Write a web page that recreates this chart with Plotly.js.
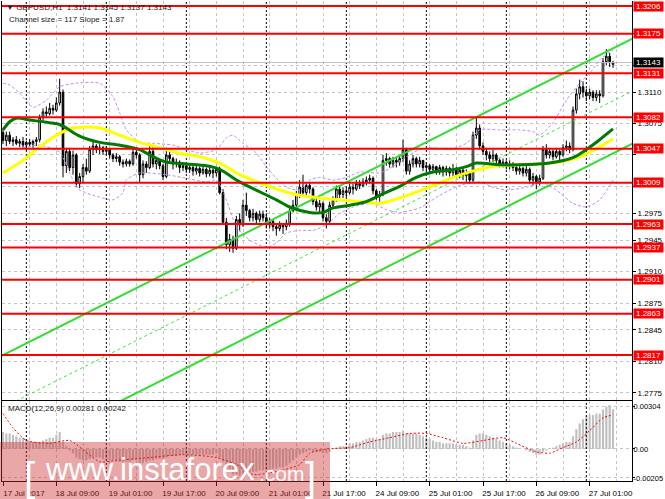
<!DOCTYPE html>
<html><head><meta charset="utf-8">
<script src="https://cdn.plot.ly/plotly-3.0.1.min.js"></script>
<style>html,body{margin:0;padding:0;background:#fff;}#chart{width:665px;height:499px;}</style>
</head><body><div id="chart"></div>
<script>
// ---------- DATA ----------
const symbol = 'GBPUSD,H1';
const channelText = 'Channel size = 117 Slope = 1.87';
const macdName = 'MACD(12,26,9)';
const timeLabels = ['17 Jul 2017','18 Jul 09:00','19 Jul 01:00','19 Jul 17:00','20 Jul 09:00','21 Jul 01:00','21 Jul 17:00','24 Jul 09:00','25 Jul 01:00','25 Jul 17:00','26 Jul 09:00','27 Jul 01:00'];
const timeLabelIdx = [0,16,32,48,64,80,96,112,128,144,160,176];
const daySepIdx = [7,31,55,79,103,127,151,175];

const openP = [1.3065,1.3056,1.3062,1.3055,1.3057,1.3053,1.3055,1.3051,1.3054,1.3052,
1.3055,1.3057,1.3082,1.3088,1.3086,1.3092,1.3090,1.3098,1.3110,1.3028,
1.3044,1.3026,1.3040,1.3008,1.3016,1.3026,1.3022,1.3046,1.3050,1.3046,
1.3048,1.3044,1.3046,1.3040,1.3036,1.3038,1.3032,1.3030,1.3033,1.3030,
1.3043,1.3040,1.3018,1.3030,1.3026,1.3044,1.3030,1.3034,1.3028,1.3016,
1.3040,1.3036,1.3030,1.3032,1.3026,1.3028,1.3024,1.3026,1.3022,1.3025,
1.3020,1.3024,1.3019,1.3023,1.3020,1.3024,1.2998,1.2965,1.2940,1.2946,
1.2936,1.2968,1.2962,1.2984,1.2978,1.2970,1.2975,1.2968,1.2974,1.2970,
1.2962,1.2966,1.2960,1.2958,1.2962,1.2960,1.2964,1.2978,1.2984,1.2996,
1.3004,1.2998,1.3006,1.3002,1.2988,1.2982,1.2986,1.2970,1.2966,1.2984,
1.2990,1.3002,1.2996,1.3000,1.2998,1.3004,1.3002,1.3008,1.3006,1.3010,
1.3012,1.3014,1.3000,1.2994,1.2996,1.3034,1.3036,1.3030,1.3034,1.3032,
1.3036,1.3046,1.3022,1.3030,1.3036,1.3030,1.3034,1.3026,1.3028,1.3024,
1.3027,1.3022,1.3026,1.3021,1.3025,1.3020,1.3024,1.3018,1.3023,1.3017,
1.3020,1.3012,1.3062,1.3070,1.3050,1.3044,1.3040,1.3036,1.3040,1.3034,
1.3030,1.3032,1.3028,1.3030,1.3026,1.3022,1.3025,1.3020,1.3024,1.3012,
1.3016,1.3010,1.3014,1.3046,1.3040,1.3044,1.3038,1.3044,1.3040,1.3048,
1.3050,1.3046,1.3090,1.3108,1.3116,1.3110,1.3106,1.3110,1.3104,1.3108,
1.3106,1.3144,1.3150,1.3141];
const highP = [1.3070,1.3066,1.3066,1.3060,1.3061,1.3058,1.3060,1.3056,1.3058,1.3057,
1.3060,1.3085,1.3092,1.3094,1.3098,1.3096,1.3104,1.3125,1.3113,1.3048,
1.3048,1.3045,1.3042,1.3020,1.3030,1.3036,1.3050,1.3055,1.3052,1.3052,
1.3050,1.3050,1.3047,1.3042,1.3042,1.3040,1.3035,1.3036,1.3035,1.3047,
1.3046,1.3042,1.3034,1.3033,1.3052,1.3050,1.3038,1.3036,1.3030,1.3048,
1.3045,1.3038,1.3036,1.3034,1.3032,1.3030,1.3030,1.3028,1.3028,1.3027,
1.3028,1.3026,1.3027,1.3025,1.3027,1.3027,1.3002,1.2970,1.2952,1.2950,
1.2972,1.2975,1.2990,1.2998,1.2980,1.2980,1.2977,1.2978,1.2978,1.2975,
1.2970,1.2968,1.2964,1.2966,1.2964,1.2968,1.2982,1.2990,1.3000,1.3012,
1.3018,1.3010,1.3010,1.3004,1.2992,1.2990,1.2988,1.2974,1.2988,1.2994,
1.3006,1.3006,1.3004,1.3004,1.3008,1.3008,1.3012,1.3012,1.3014,1.3016,
1.3018,1.3016,1.3002,1.3000,1.3040,1.3042,1.3038,1.3038,1.3038,1.3040,
1.3057,1.3048,1.3034,1.3040,1.3038,1.3038,1.3034,1.3032,1.3030,1.3030,
1.3028,1.3029,1.3028,1.3028,1.3027,1.3030,1.3027,1.3026,1.3025,1.3024,
1.3022,1.3066,1.3082,1.3074,1.3054,1.3048,1.3044,1.3046,1.3042,1.3036,
1.3036,1.3034,1.3034,1.3032,1.3030,1.3028,1.3027,1.3028,1.3026,1.3020,
1.3018,1.3018,1.3050,1.3052,1.3048,1.3046,1.3048,1.3046,1.3052,1.3056,
1.3054,1.3094,1.3114,1.3124,1.3122,1.3114,1.3114,1.3112,1.3112,1.3112,
1.3148,1.3158,1.3154,1.3145];
const lowP = [1.3052,1.3050,1.3052,1.3050,1.3051,1.3049,1.3048,1.3045,1.3049,1.3048,
1.3050,1.3054,1.3078,1.3082,1.3084,1.3085,1.3088,1.3095,1.3015,1.3020,
1.3022,1.3018,1.3004,1.3003,1.3010,1.3018,1.3020,1.3040,1.3042,1.3041,
1.3040,1.3040,1.3036,1.3032,1.3032,1.3028,1.3026,1.3027,1.3027,1.3028,
1.3036,1.3010,1.3014,1.3020,1.3024,1.3026,1.3024,1.3024,1.3012,1.3014,
1.3030,1.3024,1.3026,1.3020,1.3022,1.3020,1.3020,1.3017,1.3018,1.3016,
1.3018,1.3015,1.3016,1.3014,1.3016,1.2996,1.2962,1.2935,1.2932,1.2931,
1.2934,1.2955,1.2960,1.2972,1.2966,1.2966,1.2964,1.2965,1.2966,1.2958,
1.2958,1.2955,1.2950,1.2955,1.2952,1.2956,1.2960,1.2976,1.2982,1.2992,
1.2994,1.2995,1.2997,1.2984,1.2978,1.2976,1.2966,1.2958,1.2962,1.2980,
1.2988,1.2992,1.2992,1.2992,1.2996,1.2996,1.3000,1.3002,1.3004,1.3006,
1.3008,1.2996,1.2990,1.2988,1.2994,1.3028,1.3026,1.3026,1.3026,1.3028,
1.3032,1.3018,1.3018,1.3026,1.3026,1.3026,1.3022,1.3022,1.3020,1.3020,
1.3018,1.3018,1.3016,1.3017,1.3016,1.3016,1.3014,1.3014,1.3012,1.3010,
1.3008,1.3010,1.3058,1.3046,1.3040,1.3034,1.3032,1.3032,1.3030,1.3026,
1.3026,1.3024,1.3024,1.3022,1.3018,1.3018,1.3016,1.3016,1.3008,1.3006,
1.3002,1.3006,1.3012,1.3036,1.3036,1.3034,1.3036,1.3034,1.3038,1.3044,
1.3042,1.3044,1.3086,1.3102,1.3104,1.3100,1.3102,1.3100,1.3100,1.3098,
1.3104,1.3140,1.3138,1.3137];
const closeP = [1.3056,1.3062,1.3055,1.3057,1.3053,1.3055,1.3051,1.3054,1.3052,1.3055,
1.3057,1.3082,1.3088,1.3086,1.3092,1.3090,1.3098,1.3110,1.3028,1.3044,
1.3026,1.3040,1.3008,1.3016,1.3026,1.3022,1.3046,1.3050,1.3046,1.3048,
1.3044,1.3046,1.3040,1.3036,1.3038,1.3032,1.3030,1.3033,1.3030,1.3043,
1.3040,1.3018,1.3030,1.3026,1.3044,1.3030,1.3034,1.3028,1.3016,1.3040,
1.3036,1.3030,1.3032,1.3026,1.3028,1.3024,1.3026,1.3022,1.3025,1.3020,
1.3024,1.3019,1.3023,1.3020,1.3024,1.2998,1.2965,1.2940,1.2946,1.2936,
1.2968,1.2962,1.2984,1.2978,1.2970,1.2975,1.2968,1.2974,1.2970,1.2962,
1.2966,1.2960,1.2958,1.2962,1.2960,1.2964,1.2978,1.2984,1.2996,1.3004,
1.2998,1.3006,1.3002,1.2988,1.2982,1.2986,1.2970,1.2966,1.2984,1.2990,
1.3002,1.2996,1.3000,1.2998,1.3004,1.3002,1.3008,1.3006,1.3010,1.3012,
1.3014,1.3000,1.2994,1.2996,1.3034,1.3036,1.3030,1.3034,1.3032,1.3036,
1.3046,1.3022,1.3030,1.3036,1.3030,1.3034,1.3026,1.3028,1.3024,1.3027,
1.3022,1.3026,1.3021,1.3025,1.3020,1.3024,1.3018,1.3023,1.3017,1.3020,
1.3012,1.3062,1.3070,1.3050,1.3044,1.3040,1.3036,1.3040,1.3034,1.3030,
1.3032,1.3028,1.3030,1.3026,1.3022,1.3025,1.3020,1.3024,1.3012,1.3016,
1.3010,1.3014,1.3046,1.3040,1.3044,1.3038,1.3044,1.3040,1.3048,1.3050,
1.3046,1.3090,1.3108,1.3116,1.3110,1.3106,1.3110,1.3104,1.3108,1.3106,
1.3144,1.3150,1.3144,1.3143];

// moving averages / bands read at sample bars
const greenMaIdx = [0,2,4,8,14,17,19,23,29,35,41,45,49,55,61,65,71,77,82,86,92,96,99,104,109,113,119,124,129,134,139,142,149,155,164,171,175,179,183];
const greenMaVal = [1.3068,1.3077,1.3081,1.3079,1.3076,1.3074,1.3070,1.3061,1.3054,1.3051,1.3046,1.3038,1.3032,1.3030,1.3028,1.3024,1.3010,1.2999,1.2990,1.2982,1.2976,1.2976,1.2981,1.2984,1.2988,1.2995,1.3005,1.3015,1.3021,1.3023,1.3027,1.3031,1.3029,1.3029,1.3031,1.3037,1.3046,1.3057,1.3069];
const yellowMaIdx = [0,6,11,17,21,24,29,35,41,47,53,59,65,71,77,83,89,95,101,107,113,119,125,131,139,147,155,167,173,179,183];
const yellowMaVal = [1.3020,1.3034,1.3049,1.3064,1.3070,1.3071,1.3070,1.3062,1.3054,1.3048,1.3042,1.3038,1.3031,1.3018,1.3009,1.3001,1.2995,1.2992,1.2990,1.2988,1.2986,1.2992,1.3000,1.3009,1.3020,1.3027,1.3029,1.3032,1.3038,1.3049,1.3058];
const bandUpIdx = [0,2,5,9,13,17,22,29,33,35,37,41,45,51,55,59,64,67,69,72,76,79,82,85,89,92,95,99,103,107,113,117,121,125,129,134,139,143,149,155,159,161,165,169,173,176,179,183];
const bandUpVal = [1.3120,1.3118,1.3109,1.3093,1.3101,1.3116,1.3120,1.3120,1.3105,1.3087,1.3068,1.3054,1.3053,1.3051,1.3046,1.3042,1.3046,1.3059,1.3062,1.3053,1.3042,1.3027,1.3014,1.3004,1.3001,1.3012,1.3015,1.3012,1.3015,1.3021,1.3020,1.3027,1.3038,1.3046,1.3048,1.3046,1.3053,1.3068,1.3068,1.3068,1.3066,1.3062,1.3076,1.3101,1.3120,1.3131,1.3146,1.3157];
const bandLoIdx = [0,6,11,17,21,23,29,33,36,37,41,49,55,61,64,67,70,74,79,82,85,89,93,97,101,105,111,115,119,125,131,137,143,147,151,157,162,166,171,175,179,183];
const bandLoVal = [1.3046,1.3048,1.3051,1.3043,1.3012,1.3001,1.2993,1.2990,1.2998,1.3012,1.3020,1.3018,1.3014,1.3010,1.3012,1.2990,1.2960,1.2945,1.2937,1.2942,1.2953,1.2956,1.2956,1.2962,1.2975,1.2982,1.2986,1.2979,1.2976,1.2981,1.2995,1.3006,1.3010,1.3004,1.3001,1.3004,1.3009,1.3001,1.2986,1.2982,1.2990,1.3012];

// regression channel
const channelIdx = [-1,189];
const channelUpper = [1.2815,1.3170];
const channelSize = 0.0117;

// horizontal levels
const levels = [1.3206,1.3175,1.3131,1.3082,1.3047,1.3009,1.2963,1.2937,1.2901,1.2863,1.2817];
const priceTicks = [1.2775,1.2810,1.2845,1.2875,1.2910,1.2945,1.2975,1.3005,1.3040,1.3075,1.3110,1.3140,1.3175];
const priceTickText = ['1.2775','1.2810','1.2845','1.2875','1.2910','1.2945','1.2975','','','1.3075','1.3110','',''];

// MACD
const macdHist = [0.0012,0.0011,0.0011,0.0010,0.0009,0.0008,0.0008,0.0007,0.0006,0.0005,
0.0005,0.0005,0.0006,0.0007,0.0008,0.0008,0.0010,0.0012,0.0005,0.0002,
-0.0001,-0.0003,-0.0006,-0.0007,-0.0008,-0.0008,-0.0007,-0.0006,-0.0006,-0.0006,
-0.0007,-0.0007,-0.0008,-0.0008,-0.0009,-0.0009,-0.0009,-0.0009,-0.0009,-0.0008,
-0.0008,-0.0010,-0.0010,-0.0009,-0.0008,-0.0008,-0.0007,-0.0007,-0.0007,-0.0006,
-0.0005,-0.0005,-0.0005,-0.0004,-0.0004,-0.0004,-0.0004,-0.0004,-0.0004,-0.0004,
-0.0004,-0.0004,-0.0004,-0.0004,-0.0003,-0.0006,-0.0009,-0.0013,-0.0015,-0.0018,
-0.0018,-0.0019,-0.0018,-0.0017,-0.0017,-0.0016,-0.0016,-0.0015,-0.0015,-0.0015,
-0.0014,-0.0014,-0.0014,-0.0013,-0.0013,-0.0012,-0.0010,-0.0008,-0.0006,-0.0004,
-0.0003,-0.0002,-0.0001,-0.0002,-0.0002,-0.0002,-0.0003,-0.0003,-0.0002,0.0000,
0.0001,0.0002,0.0002,0.0002,0.0004,0.0004,0.0005,0.0005,0.0006,0.0007,
0.0008,0.0008,0.0007,0.0007,0.0010,0.0011,0.0011,0.0012,0.0012,0.0012,
0.0013,0.0011,0.0011,0.0011,0.0011,0.0010,0.0009,0.0008,0.0007,0.0006,
0.0005,0.0005,0.0004,0.0004,0.0004,0.0004,0.0003,0.0003,0.0003,0.0002,
0.0001,0.0006,0.0010,0.0011,0.0011,0.0010,0.0009,0.0008,0.0007,0.0006,
0.0005,0.0004,0.0003,0.0002,0.0001,0.0000,0.0000,-0.0001,-0.0002,-0.0003,
-0.0004,-0.0004,-0.0002,-0.0001,0.0000,0.0001,0.0002,0.0003,0.0004,0.0005,
0.0005,0.0009,0.0014,0.0018,0.0021,0.0023,0.0024,0.0024,0.0025,0.0025,
0.0028,0.0030,0.0031,0.00281];
const signalIdx = [0,3,7,14,20,29,34,44,54,64,70,75,82,89,92,97,104,110,116,122,127,132,138,144,150,154,160,164,168,172,176,180,183];
const signalVal = [0.0025,0.0015,0.0006,0.0004,0.0006,-0.0009,-0.0008,-0.0006,-0.0004,-0.0006,-0.0011,-0.0018,-0.0016,-0.0011,-0.0003,0.0000,0.0001,0.0005,0.0008,0.0011,0.0011,0.0008,0.0004,0.0006,0.0008,0.0004,-0.0002,-0.0003,0.0001,0.0005,0.0013,0.0022,0.00242];
const macdTicks = [0.00304,0,-0.00205];
const macdTickText = ['0.00304','0.00','-0.00205'];

// ---------- DRAW ----------
const F = 'Liberation Sans, Arial, sans-serif';
const barIdx = closeP.map((_, i) => i);
const yMain = [1.27669, 1.32116];
const yMacd = [-0.002263, 0.003395];
const xRange = [-0.3, 188.7];
const last = closeP.length - 1;

function sepLine(range) {
  const xs = [], ys = [];
  daySepIdx.forEach(d => { xs.push(d, d, null); ys.push(range[0], range[1], null); });
  return {xs, ys};
}
const s1 = sepLine(yMain), s2 = sepLine(yMacd);
const upper = channelUpper;
const middle = channelUpper.map(v => v - channelSize / 2);
const lower = channelUpper.map(v => v - channelSize);

const traces = [
  {type:'scatter', mode:'lines', x:s1.xs, y:s1.ys, xaxis:'x', yaxis:'y', line:{color:'#000', width:1, dash:'2px,2px'}, hoverinfo:'skip'},
  {type:'scatter', mode:'lines', x:s2.xs, y:s2.ys, xaxis:'x2', yaxis:'y2', line:{color:'#000', width:1, dash:'2px,2px'}, hoverinfo:'skip'},
  {type:'scatter', mode:'lines', x:xRange, y:[closeP[last], closeP[last]], xaxis:'x', yaxis:'y', line:{color:'#c0c0c0', width:1}, hoverinfo:'skip'},
  {type:'scatter', mode:'lines', x:bandUpIdx, y:bandUpVal, xaxis:'x', yaxis:'y', line:{color:'#c58cf0', width:1, dash:'3px,2px', shape:'spline', smoothing:0.6}},
  {type:'scatter', mode:'lines', x:bandLoIdx, y:bandLoVal, xaxis:'x', yaxis:'y', line:{color:'#c58cf0', width:1, dash:'3px,2px', shape:'spline', smoothing:0.6}},
  {type:'candlestick', x:barIdx, open:openP, high:highP, low:lowP, close:closeP, xaxis:'x', yaxis:'y', whiskerwidth:0,
    increasing:{line:{color:'#000', width:1}, fillcolor:'#ffffff'},
    decreasing:{line:{color:'#000', width:1}, fillcolor:'#000000'}, hoverinfo:'skip'},
  {type:'scatter', mode:'lines', x:channelIdx, y:middle, xaxis:'x', yaxis:'y', line:{color:'#33ee33', width:1, dash:'3px,3px'}},
  {type:'scatter', mode:'lines', x:channelIdx, y:upper, xaxis:'x', yaxis:'y', line:{color:'#33dd33', width:2}},
  {type:'scatter', mode:'lines', x:channelIdx, y:lower, xaxis:'x', yaxis:'y', line:{color:'#33dd33', width:2}},
  {type:'scatter', mode:'lines', x:yellowMaIdx, y:yellowMaVal, xaxis:'x', yaxis:'y', line:{color:'#ffff00', width:3, shape:'spline', smoothing:0.8}},
  {type:'scatter', mode:'lines', x:greenMaIdx, y:greenMaVal, xaxis:'x', yaxis:'y', line:{color:'#007a00', width:3, shape:'spline', smoothing:0.8}},
  {type:'bar', x:barIdx, y:macdHist, xaxis:'x2', yaxis:'y2', marker:{color:'#c0c0c0', line:{width:0}}, hoverinfo:'skip'},
  {type:'scatter', mode:'lines', x:signalIdx, y:signalVal, xaxis:'x2', yaxis:'y2', line:{color:'#ff0000', width:1, dash:'2px,2px', shape:'spline', smoothing:0.6}}
];

const grid = {showgrid:true, gridcolor:'#c4c4c4', griddash:'3px,3px', gridwidth:1};
const minorGrid = {tick0:0, dtick:8, showgrid:true, gridcolor:'#c4c4c4', griddash:'3px,3px', ticks:''};

const shapes = levels.map(v => ({type:'line', xref:'paper', x0:0, x1:1, yref:'y', y0:v, y1:v, line:{color:'#ff0000', width:2}, layer:'above'}));
shapes.push({type:'rect', xref:'paper', x0:-0.004, x1:0.5206, yref:'paper', y0:-0.04, y1:0.08125, fillcolor:'rgba(205,45,45,0.42)', line:{width:0}, layer:'above'});

const annotations = [];
levels.forEach(v => annotations.push({xref:'paper', x:1, xanchor:'left', xshift:1, yref:'y', y:v, yanchor:'middle',
  text:v.toFixed(4), showarrow:false, bgcolor:'#ff0000', font:{color:'#fff', size:8, family:F}, width:29, height:9, borderpad:0, align:'center'}));
annotations.push({xref:'paper', x:1, xanchor:'left', xshift:1, yref:'y', y:closeP[last], yanchor:'middle',
  text:closeP[last].toFixed(4), showarrow:false, bgcolor:'#000', font:{color:'#fff', size:8, family:F}, width:29, height:9, borderpad:0, align:'center'});
annotations.push({xref:'paper', x:0, xanchor:'left', xshift:2, yref:'paper', y:1, yanchor:'top', yshift:0,
  text:'▼ ' + symbol + '  ' + [openP[last], highP[last], lowP[last], closeP[last]].map(v => v.toFixed(4)).join(' '),
  showarrow:false, font:{color:'#222', size:8, family:F}});
annotations.push({xref:'paper', x:0, xanchor:'left', xshift:5, yref:'paper', y:1, yanchor:'top', yshift:-12,
  text:channelText, showarrow:false, font:{color:'#222', size:8, family:F}});
annotations.push({xref:'paper', x:0, xanchor:'left', xshift:4, yref:'paper', y:(481-408)/480, yanchor:'middle',
  text:macdName + ' ' + macdHist[last].toFixed(5) + ' ' + signalVal[signalVal.length-1].toFixed(5),
  showarrow:false, font:{color:'#222', size:8, family:F}});
// watermark
annotations.push({xref:'paper', x:0.0317, xanchor:'left', yref:'paper', y:0.008, yanchor:'middle', text:'[', showarrow:false, font:{color:'#fff', size:40, family:F}});
annotations.push({xref:'paper', x:0.065, xanchor:'left', yref:'paper', y:0.025, yanchor:'middle', text:'www.instaforex', showarrow:false, font:{color:'#fff', size:31, family:F}});
annotations.push({xref:'paper', x:0.404, xanchor:'left', yref:'paper', y:0.016, yanchor:'middle', text:'.com', showarrow:false, font:{color:'#fff', size:21, family:F}});
annotations.push({xref:'paper', x:0.478, xanchor:'left', yref:'paper', y:0.008, yanchor:'middle', text:']', showarrow:false, font:{color:'#fff', size:40, family:F}});

const layout = {
  width:665, height:499,
  margin:{l:2, r:33, t:1, b:18, pad:0},
  paper_bgcolor:'#ffffff', plot_bgcolor:'#ffffff',
  showlegend:false, bargap:0.35, boxgap:0.3,
  font:{family:F, size:8, color:'#000'},
  xaxis:Object.assign({domain:[0,1], anchor:'y', range:xRange, tickmode:'array', tickvals:timeLabelIdx, showticklabels:false, ticks:'',
    zeroline:false, showline:true, linecolor:'#000', linewidth:1, rangeslider:{visible:false}, fixedrange:true, minor:minorGrid}, grid),
  xaxis2:Object.assign({domain:[0,1], anchor:'y2', range:xRange, tickmode:'array', tickvals:timeLabelIdx, ticktext:timeLabels,
    ticks:'outside', ticklen:4, tickcolor:'#000', ticklabelshift:21, tickfont:{size:8, family:F, color:'#000'},
    zeroline:false, showline:true, linecolor:'#000', linewidth:1, mirror:true, fixedrange:true, minor:minorGrid}, grid),
  yaxis:Object.assign({domain:[0.16875,1], anchor:'x', side:'right', range:yMain, tickmode:'array', tickvals:priceTicks, ticktext:priceTickText,
    ticks:'outside', ticklen:3, tickcolor:'#000', tickfont:{size:8, family:F, color:'#000'},
    zeroline:false, showline:true, linecolor:'#000', linewidth:1, mirror:true, fixedrange:true}, grid),
  yaxis2:Object.assign({domain:[0,0.16667], anchor:'x2', side:'right', range:yMacd, tickmode:'array', tickvals:macdTicks, ticktext:macdTickText,
    ticks:'outside', ticklen:2, tickcolor:'#000', ticklabelstandoff:-3, tickfont:{size:7.5, family:F, color:'#000'},
    zeroline:false, showline:true, linecolor:'#000', linewidth:1, mirror:true, fixedrange:true}, grid),
  shapes:shapes,
  annotations:annotations
};

Plotly.newPlot('chart', traces, layout, {staticPlot:true, displayModeBar:false});
</script>
</body></html>
